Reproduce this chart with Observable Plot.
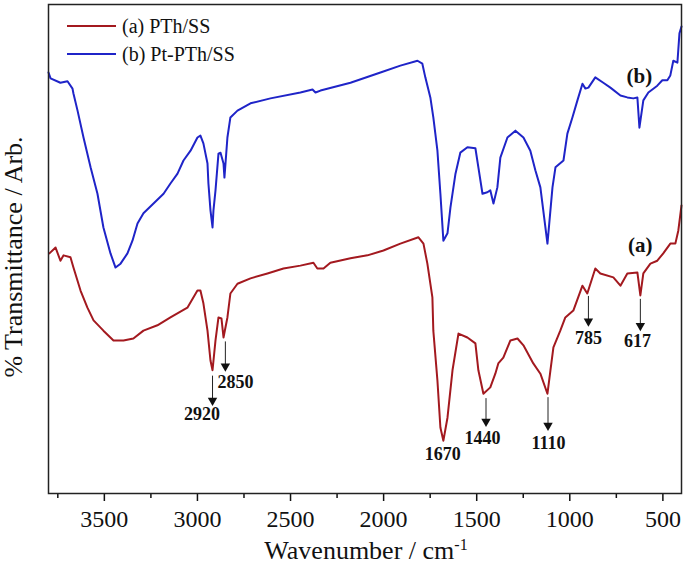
<!DOCTYPE html>
<html><head><meta charset="utf-8">
<script src="https://cdn.jsdelivr.net/npm/d3@7"></script>
<script src="https://cdn.jsdelivr.net/npm/@observablehq/plot@0.6"></script>
<style>
body{margin:0;background:#fff;}
#wrap{position:relative;width:685px;height:576px;font-family:"Liberation Serif","Times New Roman",serif;color:#111;}
#wrap svg{display:block;}
.leg{position:absolute;left:67px;font-size:20px;line-height:20px;display:flex;align-items:center;white-space:nowrap;}
.leg span.sw{display:inline-block;width:49px;height:0;border-top:2px solid;margin-right:6px;}
.xt{position:absolute;left:366px;top:551px;transform:translate(-50%,-50%);font-size:26px;white-space:nowrap;}
.yt{position:absolute;left:14px;top:257px;transform:translate(-50%,-50%) rotate(-90deg);font-size:26px;white-space:nowrap;}
</style></head><body><div id="wrap"></div>
<script>
const seriesNames = ["(a) PTh/SS", "(b) Pt-PTh/SS"];
const seriesColors = ["#a3191f", "#1f24c8"];

const wavenumberA = [3795,3762,3736,3719,3682,3666,3628,3591,3558,3505,3451,3397,3344,3290,3215,3145,3054,3000,2984,2968,2946,2930,2919,2903,2887,2871,2860,2839,2823,2785,2715,2624,2538,2447,2377,2356,2323,2286,2178,2087,2001,1910,1813,1786,1765,1738,1733,1711,1695,1679,1657,1630,1598,1550,1507,1491,1464,1427,1400,1384,1357,1319,1281,1249,1196,1158,1120,1104,1088,1051,1024,981,932,906,863,836,766,728,691,637,621,605,567,530,498,460,433,417,400];
const transA = [49.1,50.3,47.6,48.7,48.3,46.2,41.5,38.0,35.4,33.3,31.3,31.3,31.7,33.3,34.4,36.0,38.0,41.5,41.5,38.9,33.3,27.2,25.2,31.3,36.0,35.8,31.9,36.0,40.9,42.9,44.0,45.0,46.0,46.6,47.2,46.0,46.0,47.2,48.1,48.7,49.7,51.1,52.4,51.1,47.0,40.1,33.3,23.1,13.5,10.8,15.5,25.2,32.7,31.9,30.7,25.2,20.4,21.7,24.5,26.6,27.8,31.3,31.7,30.3,26.6,24.5,20.4,25.2,29.9,33.3,36.0,37.4,42.5,40.9,46.0,45.0,44.2,42.5,45.0,45.2,40.5,45.0,47.0,47.6,49.1,51.1,51.1,53.8,58.9];

const wavenumberB = [3800,3789,3736,3698,3671,3666,3644,3612,3574,3537,3505,3467,3440,3413,3376,3349,3322,3290,3236,3182,3145,3107,3075,3037,3000,2984,2968,2946,2941,2930,2919,2914,2903,2887,2876,2860,2855,2839,2823,2785,2715,2608,2447,2382,2366,2339,2178,2017,1910,1818,1792,1776,1749,1733,1711,1695,1679,1657,1641,1614,1588,1550,1507,1491,1469,1443,1427,1410,1389,1373,1335,1292,1249,1212,1185,1158,1120,1093,1077,1034,1013,986,959,932,916,900,863,820,782,728,691,659,637,626,605,578,530,503,476,460,444,422,411,400];
const transB = [86.1,84.9,84.0,84.3,82.8,81.8,78.3,72.8,66.7,61.3,54.4,49.1,46.2,47.0,49.1,51.7,55.2,57.3,59.3,61.3,63.4,65.4,68.1,70.1,72.8,73.2,71.6,67.5,63.4,57.9,54.4,57.9,62.0,69.5,69.7,67.5,64.6,72.8,76.9,78.3,79.8,80.8,82.0,82.6,82.0,82.4,84.0,86.1,87.5,88.5,87.9,85.1,81.0,76.9,70.1,61.3,51.7,53.2,58.5,65.4,69.7,70.8,70.6,66.7,61.3,61.6,62.0,59.3,62.6,68.7,72.8,74.2,72.8,70.1,66.1,62.6,51.1,62.6,66.7,68.1,73.6,76.9,80.4,83.8,82.8,83.0,85.1,84.0,83.0,81.4,81.0,80.8,81.0,74.8,80.4,82.0,83.4,84.5,84.5,85.5,88.5,88.1,94.1,95.5];

const majorTicks = [3500,3000,2500,2000,1500,1000,500];
const minorTicks = [3750,3250,2750,2250,1750,1250,750];

const peakLabels = ["2920","2850","1670","1440","1110","785","617"];
const peakTextX = [2975,2796,1682,1469,1115,900,637];
const peakTextY = [16.2,22.7,8.0,11.3,10.2,31.7,31.1];
const arrowX = [2919,2850,1450,1117,900,621];
const arrowFrom = [24.0,31.0,19.4,19.6,40.3,39.7];
const arrowTo = [18.6,25.6,14.3,13.5,34.8,33.9];

const curveLabels = ["(b)","(a)"];
const curveLabelX = [626,621];
const curveLabelY = [85.3,50.7];

const dataA = wavenumberA.map((w,i)=>({w, t: transA[i]}));
const dataB = wavenumberB.map((w,i)=>({w, t: transB[i]}));
const peaks = peakLabels.map((s,i)=>({s, x: peakTextX[i], y: peakTextY[i]}));
const arrows = arrowX.map((x,i)=>({x, y1: arrowFrom[i], y2: arrowTo[i]}));
const clabs = curveLabels.map((s,i)=>({s, x: curveLabelX[i], y: curveLabelY[i]}));

const plot = Plot.plot({
  width: 685, height: 576,
  marginTop: 4, marginBottom: 83, marginLeft: 48, marginRight: 4,
  style: {fontFamily: "Liberation Serif, 'Times New Roman', serif", background: "white", color: "#111"},
  x: {domain: [3800, 400], label: null},
  y: {domain: [0, 100], axis: null},
  marks: [
    Plot.axisX({ticks: majorTicks, tickSize: 8, tickPadding: 8, fontSize: 24, tickFormat: d => String(d), label: null, strokeWidth: 1.5}),
    Plot.axisX({ticks: minorTicks, tickSize: 5, tickFormat: () => "", label: null, strokeWidth: 1.5}),
    Plot.line(dataA, {x: "w", y: "t", stroke: seriesColors[0], strokeWidth: 2}),
    Plot.line(dataB, {x: "w", y: "t", stroke: seriesColors[1], strokeWidth: 2}),
    Plot.frame({stroke: "#222", strokeWidth: 1.5}),
    Plot.ruleX(arrows, {x: "x", y1: "y1", y2: "y2", stroke: "#222", strokeWidth: 1}),
    Plot.dot(arrows, {x: "x", y: "y2", symbol: "triangle", rotate: 180, r: 3.5, fill: "#111", stroke: "none", dy: -2}),
    Plot.text(peaks, {x: "x", y: "y", text: "s", fontWeight: "bold", fontSize: 18, fill: "#111"}),
    Plot.text(clabs, {x: "x", y: "y", text: "s", fontWeight: "bold", fontSize: 21, fill: "#111"})
  ]
});
const wrap = document.getElementById("wrap");
wrap.appendChild(plot);

seriesNames.forEach((name, i) => {
  const d = document.createElement("div");
  d.className = "leg";
  d.style.top = (16 + i * 28) + "px";
  const sw = document.createElement("span");
  sw.className = "sw";
  sw.style.borderColor = seriesColors[i];
  d.appendChild(sw);
  d.appendChild(document.createTextNode(name));
  wrap.appendChild(d);
});
const xt = document.createElement("div");
xt.className = "xt";
xt.innerHTML = "Wavenumber / cm<sup style='font-size:16px'>-1</sup>";
wrap.appendChild(xt);
const yt = document.createElement("div");
yt.className = "yt";
yt.textContent = "% Transmittance / Arb.";
wrap.appendChild(yt);
</script>
</body></html>
